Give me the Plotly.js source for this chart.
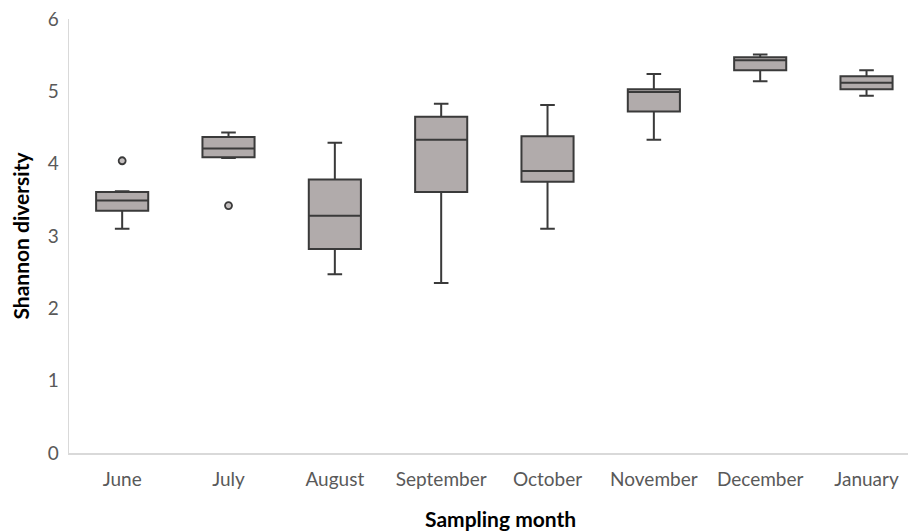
<!DOCTYPE html>
<html>
<head>
<meta charset="utf-8">
<script src="https://cdn.plot.ly/plotly-3.0.1.min.js"></script>
<style>html,body{margin:0;padding:0;background:#fff;}#chart{width:908px;height:531px;}</style>
</head>
<body>
<div id="chart"></div>
<script>
const months = ["June","July","August","September","October","November","December","January"];
const q1Vals = [3.35, 4.09, 2.82, 3.61, 3.75, 4.72, 5.29, 5.03];
const medianVals = [3.49, 4.21, 3.28, 4.33, 3.90, 4.99, 5.43, 5.12];
const q3Vals = [3.61, 4.37, 3.78, 4.65, 4.38, 5.03, 5.47, 5.21];
const lowerVals = [3.10, 4.08, 2.47, 2.35, 3.10, 4.33, 5.14, 4.94];
const upperVals = [3.62, 4.43, 4.29, 4.83, 4.81, 5.24, 5.51, 5.29];
const outlierMonths = ["June","July"];
const outlierVals = [4.04, 3.42];
const xTitle = "Sampling month";
const yTitle = "Shannon diversity";

const fontFam = "Lato, 'Open Sans', sans-serif";

const traces = [
  {
    type: "box",
    x: months,
    q1: q1Vals,
    median: medianVals,
    q3: q3Vals,
    lowerfence: lowerVals,
    upperfence: upperVals,
    boxpoints: false,
    width: 0.49,
    whiskerwidth: 0.28,
    fillcolor: "#b1abab",
    line: {color: "#3a3a3a", width: 2},
    hoverinfo: "skip",
    showlegend: false
  },
  {
    type: "scatter",
    mode: "markers",
    x: outlierMonths,
    y: outlierVals,
    marker: {size: 7, color: "#c4bfbf", line: {color: "#3a3a3a", width: 1.8}},
    showlegend: false,
    hoverinfo: "skip"
  }
];

const layout = {
  width: 908,
  height: 531,
  margin: {l: 69, r: 0, t: 19, b: 78},
  paper_bgcolor: "#fff",
  plot_bgcolor: "#fff",
  font: {family: fontFam, color: "#595959", size: 18},
  xaxis: {
    type: "category",
    range: [-0.5, 7.39],
    showgrid: false,
    zeroline: false,
    showline: true,
    linecolor: "#d9d9d9",
    linewidth: 1.5,
    ticks: "",
    tickfont: {family: fontFam, size: 19, color: "#595959"},
    ticklabelstandoff: 9
  },
  yaxis: {
    range: [0, 6],
    dtick: 1,
    showgrid: false,
    zeroline: false,
    showline: true,
    linecolor: "#d9d9d9",
    linewidth: 1.5,
    ticks: "",
    tickfont: {family: fontFam, size: 19, color: "#595959"},
    ticklabelstandoff: 5,
    title: {text: yTitle, font: {family: fontFam, size: 21, color: "#000", weight: "bold"}, standoff: 12}
  },
  annotations: [
    {
      text: "<b>" + xTitle + "</b>",
      xref: "paper", yref: "paper",
      x: (500 - 69) / 839, y: 0,
      xanchor: "center", yanchor: "middle",
      yshift: -65,
      showarrow: false,
      font: {family: fontFam, size: 21, color: "#000"}
    }
  ]
};

Plotly.newPlot("chart", traces, layout, {displayModeBar: false, staticPlot: true});
</script>
</body>
</html>
